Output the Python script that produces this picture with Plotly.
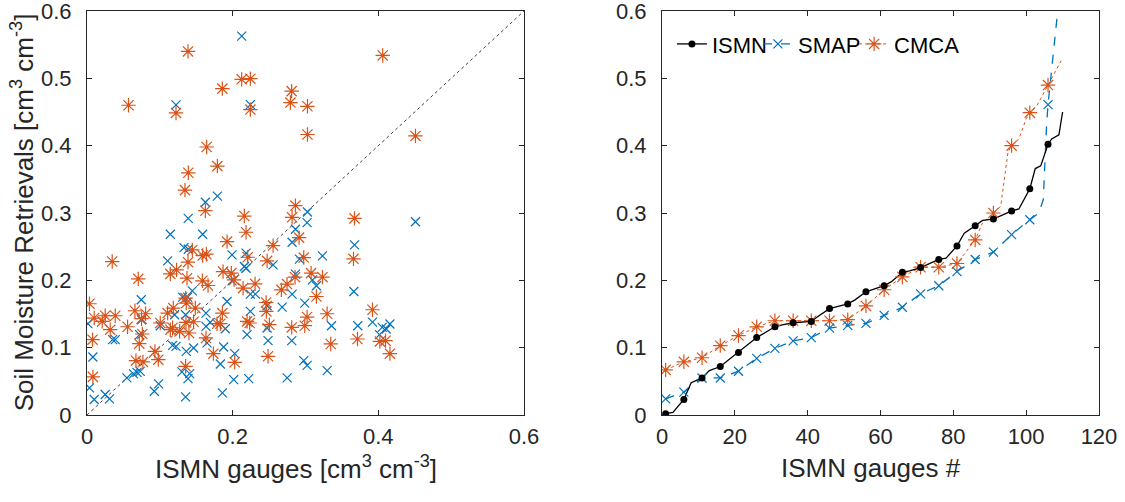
import plotly.graph_objects as go
from plotly.subplots import make_subplots

# ---------------- Left panel: scatter (ISMN gauge vs retrieval) ----------------
smap_x = [0.2124, 0.1222, 0.2243, 0.1625, 0.179, 0.3027, 0.139, 0.451,
          0.3022, 0.1144, 0.1588, 0.3673, 0.2862, 0.2816, 0.1332, 0.1391, 0.1991, 0.2184,
          0.1107, 0.2555, 0.2917, 0.3233, 0.2161, 0.2184, 0.2862, 0.3096, 0.315, 0.1991,
          0.3664, 0.1446, 0.0745, 0.1923, 0.2243, 0.2312, 0.2816, 0.2473, 0.2679, 0.299,
          0.1313, 0.1382, 0.2243, 0.1634, 0.0012, 0.0749, 0.1006, 0.1203, 0.1354, 0.1634,
          0.1693, 0.1899, 0.2198, 0.2473, 0.2486, 0.2811, 0.3357, 0.3718, 0.392, 0.4053,
          0.4108, 0.4159, 0.4016, 0.0722, 0.0351, 0.0388, 0.0081, 0.1175, 0.1222, 0.1363,
          0.1464, 0.1648, 0.1876, 0.2028, 0.1831, 0.2976, 0.3022, 0.3297, 0.1304, 0.1409,
          0.1387, 0.2014, 0.2220, 0.2748, 0.0548, 0.0639, 0.0686, 0.0731, 0.0983, 0.0924,
          0.0034, 0.0099, 0.025, 0.0309, 0.1354, 0.1859]
smap_y = [0.5627, 0.4605, 0.461, 0.316, 0.325, 0.3015, 0.292, 0.287,
          0.2857, 0.2684, 0.2684, 0.2526, 0.2758, 0.2566, 0.2486, 0.2462, 0.2378, 0.2403,
          0.2289, 0.223, 0.2314, 0.2363, 0.2205, 0.218, 0.2092, 0.2007, 0.1919, 0.1993,
          0.1834, 0.1844, 0.1711, 0.1686, 0.1795, 0.1795, 0.1795, 0.1622, 0.1603, 0.1662,
          0.1751, 0.1751, 0.1538, 0.1514, 0.1356, 0.1415, 0.1326, 0.1489, 0.1489, 0.1316,
          0.1375, 0.1281, 0.1193, 0.1292, 0.1104, 0.1104, 0.1326, 0.1326, 0.138, 0.1301,
          0.1277, 0.1351, 0.1193, 0.1193, 0.1119, 0.1119, 0.0862, 0.1034, 0.1019, 0.0945,
          0.0995, 0.107, 0.101, 0.0911, 0.0758, 0.0807, 0.0738, 0.0659, 0.064, 0.0615,
          0.0541, 0.0526, 0.0541, 0.0551, 0.0551, 0.061, 0.0634, 0.0649, 0.0462, 0.0353,
          0.0403, 0.023, 0.0304, 0.024, 0.027, 0.0329]

cmca_x = [0.1387, 0.406, 0.2124, 0.2243, 0.1858, 0.281, 0.057, 0.2793, 0.3027, 0.1222,
          0.2243, 0.3027, 0.451, 0.1643, 0.179, 0.1391, 0.1345, 0.1625, 0.2862, 0.2816,
          0.216, 0.3673,
          0.2184, 0.2912, 0.1923, 0.2555, 0.1446, 0.1588, 0.1639, 0.0346, 0.1387, 0.2206,
          0.2473, 0.2976, 0.3659, 0.123, 0.1144, 0.1373, 0.1868, 0.1982, 0.2019, 0.1584,
          0.1662, 0.0704, 0.2143, 0.2308, 0.2857, 0.2747, 0.2669, 0.3077, 0.3233, 0.315,
          0.0034, 0.1354, 0.1363, 0.1487, 0.1185, 0.1107, 0.0658, 0.0804, 0.0388, 0.025,
          0.0099, 0.0209, 0.0319, 0.0557, 0.0076, 0.0759, 0.0718, 0.0749, 0.1006, 0.1144,
          0.1175, 0.1272, 0.1359, 0.1464, 0.14, 0.1634, 0.1786, 0.1831, 0.1859, 0.2198,
          0.2234, 0.2459, 0.2463, 0.2504, 0.2811, 0.299, 0.3022, 0.3297, 0.392, 0.3347,
          0.3714, 0.4021, 0.4099, 0.4159, 0.0933, 0.0979, 0.0672, 0.0768, 0.1735, 0.2028,
          0.2486, 0.1354, 0.0081]
cmca_y = [0.540, 0.534, 0.4985, 0.4995, 0.4847, 0.481, 0.46, 0.464, 0.4585, 0.4486,
          0.4536, 0.4166, 0.4145, 0.398, 0.3696, 0.3597, 0.334, 0.3034, 0.311, 0.2936,
          0.2955, 0.292,
          0.2714, 0.2634, 0.2575, 0.2516, 0.2452, 0.2368, 0.2388, 0.2279, 0.227, 0.2343,
          0.2289, 0.2338, 0.2319, 0.2156, 0.2096, 0.2032, 0.213, 0.2107, 0.2007, 0.1993,
          0.1923, 0.2022, 0.1884, 0.1948, 0.2047, 0.1944, 0.1859, 0.2107, 0.2047, 0.176,
          0.1652, 0.1736, 0.1662, 0.1588, 0.1588, 0.1514, 0.1548, 0.1504, 0.1474, 0.1474,
          0.144, 0.139, 0.1267, 0.1311, 0.1119, 0.1203, 0.1059, 0.143, 0.1366, 0.1267,
          0.1296, 0.1242, 0.1375, 0.1385, 0.1218, 0.1144, 0.1356, 0.1356, 0.1514, 0.139,
          0.1366, 0.1671, 0.1538, 0.1341, 0.1301, 0.1326, 0.1455, 0.1504, 0.1563, 0.1055,
          0.1129, 0.1093, 0.1104, 0.0911, 0.0945, 0.0822, 0.0807, 0.0788, 0.0911, 0.0783,
          0.0872, 0.0723, 0.0566]

diag_x = [0, 0.6]
diag_y = [0, 0.6]

# ---------------- Right panel: sorted curves ----------------
gauge_idx = [1, 6, 11, 16, 21, 26, 31, 36, 41, 46, 51, 56, 61, 66, 71, 76, 81, 86,
             91, 96, 101, 106]
ismn_sorted = [0.002, 0.023, 0.055, 0.072, 0.093, 0.115, 0.131, 0.137, 0.139, 0.158,
               0.165, 0.183, 0.192, 0.212, 0.219, 0.231, 0.251, 0.281, 0.291, 0.303,
               0.336, 0.402]
smap_sorted = [0.024, 0.034, 0.055, 0.055, 0.065, 0.084, 0.099, 0.110, 0.115, 0.129,
               0.133, 0.136, 0.148, 0.160, 0.180, 0.192, 0.213, 0.231, 0.242, 0.268,
               0.290, 0.461]
cmca_sorted = [0.067, 0.079, 0.085, 0.103, 0.118, 0.131, 0.140, 0.140, 0.140, 0.140,
               0.1415, 0.162, 0.186, 0.205, 0.2195, 0.2195, 0.225, 0.260, 0.300, 0.400,
               0.449, 0.490]

# extra line knots between / after the marked gauges
ismn_extra_x = [3, 8, 13, 33, 43, 53, 63, 68, 78, 83, 88, 98, 102.5, 104, 107, 109, 110]
ismn_extra_y = [0.004, 0.048, 0.066, 0.134, 0.147, 0.171, 0.198, 0.214, 0.233, 0.270,
                0.289, 0.306, 0.366, 0.370, 0.410, 0.416, 0.450]
smap_extra_x = [103.5, 104.7, 105.2, 105.6, 110]
smap_extra_y = [0.300, 0.320, 0.390, 0.430, 0.670]
cmca_extra_x = [88, 93, 95, 98, 100, 103, 107, 110]
cmca_extra_y = [0.285, 0.310, 0.390, 0.410, 0.440, 0.460, 0.500, 0.530]

x_ticks_left = [0, 0.2, 0.4, 0.6]
x_ticks_right = [0, 20, 40, 60, 80, 100, 120]
y_ticks = [0, 0.1, 0.2, 0.3, 0.4, 0.5, 0.6]

BLUE = "#0072BD"
ORANGE = "#D95319"
AX = "#262626"
FONT = "Liberation Sans, Arial, sans-serif"
TICK_SIZE = 22
TITLE_SIZE = 26


def merge(x1, y1, x2, y2):
    pts = sorted(zip(list(x1) + list(x2), list(y1) + list(y2)))
    return [p[0] for p in pts], [p[1] for p in pts]


def fmt(v):
    return "0" if v == 0 else f"{v:g}"


ismn_marker = dict(symbol="circle", size=7, color="black")
smap_marker = dict(symbol="x-thin-open", size=9, color=BLUE, line=dict(color=BLUE, width=1.2))
cmca_marker = dict(symbol="asterisk-open", size=12, color=ORANGE, line=dict(color=ORANGE, width=1.2))

fig = make_subplots(rows=1, cols=2, horizontal_spacing=0.1364)

# left panel
fig.add_trace(go.Scatter(x=diag_x, y=diag_y, mode="lines",
                         line=dict(color="#404040", width=1, dash="dot"),
                         showlegend=False, hoverinfo="skip"), row=1, col=1)
fig.add_trace(go.Scatter(x=smap_x, y=smap_y, mode="markers", marker=smap_marker,
                         showlegend=False), row=1, col=1)
fig.add_trace(go.Scatter(x=cmca_x, y=cmca_y, mode="markers", marker=cmca_marker,
                         showlegend=False), row=1, col=1)

# right panel lines
ix, iy = merge(gauge_idx, ismn_sorted, ismn_extra_x, ismn_extra_y)
sx, sy = merge(gauge_idx, smap_sorted, smap_extra_x, smap_extra_y)
cx, cy = merge(gauge_idx, cmca_sorted, cmca_extra_x, cmca_extra_y)

fig.add_trace(go.Scatter(x=cx, y=cy, mode="lines",
                         line=dict(color=ORANGE, width=1, dash="dot"),
                         showlegend=False), row=1, col=2)
fig.add_trace(go.Scatter(x=sx, y=sy, mode="lines",
                         line=dict(color=BLUE, width=1.3, dash="dash"),
                         showlegend=False), row=1, col=2)
fig.add_trace(go.Scatter(x=ix, y=iy, mode="lines",
                         line=dict(color="black", width=1.3),
                         showlegend=False), row=1, col=2)

fig.add_trace(go.Scatter(x=gauge_idx, y=cmca_sorted, mode="markers", marker=cmca_marker,
                         showlegend=False), row=1, col=2)
fig.add_trace(go.Scatter(x=gauge_idx, y=smap_sorted, mode="markers", marker=smap_marker,
                         showlegend=False), row=1, col=2)
fig.add_trace(go.Scatter(x=gauge_idx, y=ismn_sorted, mode="markers", marker=ismn_marker,
                         showlegend=False), row=1, col=2)

# legend entries (one legend box per entry for MATLAB-like compact spacing)
fig.add_trace(go.Scatter(x=[None], y=[None], mode="lines+markers", name="ISMN",
                         line=dict(color="black", width=1.3), marker=ismn_marker,
                         legend="legend"), row=1, col=2)
fig.add_trace(go.Scatter(x=[None], y=[None], mode="lines+markers", name="SMAP",
                         line=dict(color=BLUE, width=1.3, dash="dash"), marker=smap_marker,
                         legend="legend2"), row=1, col=2)
fig.add_trace(go.Scatter(x=[None], y=[None], mode="lines+markers", name="CMCA",
                         line=dict(color=ORANGE, width=1, dash="dot"), marker=cmca_marker,
                         legend="legend3"), row=1, col=2)

axis_common = dict(showline=True, linecolor=AX, linewidth=1, mirror="ticks",
                   ticks="inside", ticklen=5, tickcolor=AX, tickwidth=1,
                   showgrid=False, zeroline=False, ticklabeloverflow="allow",
                   tickfont=dict(family=FONT, size=TICK_SIZE, color=AX))

fig.update_xaxes(axis_common)
fig.update_yaxes(axis_common)

fig.update_xaxes(range=[0, 0.6], tickvals=x_ticks_left, ticktext=[fmt(v) for v in x_ticks_left],
                 domain=[0, 0.4318], ticklabelstandoff=2, row=1, col=1)
fig.update_yaxes(range=[0, 0.6], tickvals=y_ticks, ticktext=[fmt(v) for v in y_ticks],
                 ticklabelstandoff=10, row=1, col=1)
fig.update_xaxes(range=[0, 120], tickvals=x_ticks_right, ticktext=[fmt(v) for v in x_ticks_right],
                 domain=[0.5682, 1], ticklabelstandoff=2, row=1, col=2)
fig.update_yaxes(range=[0, 0.6], tickvals=y_ticks, ticktext=[fmt(v) for v in y_ticks],
                 ticklabelstandoff=10, row=1, col=2)

title_font = dict(family=FONT, size=TITLE_SIZE, color=AX)
fig.add_annotation(text="ISMN gauges [cm<sup>3</sup> cm<sup>-3</sup>]", xref="paper", yref="paper",
                   x=0.2065, y=-0.131, xanchor="center", yanchor="middle",
                   showarrow=False, font=title_font)
fig.add_annotation(text="ISMN gauges #", xref="paper", yref="paper",
                   x=0.7747, y=-0.131, xanchor="center", yanchor="middle",
                   showarrow=False, font=title_font)
fig.add_annotation(text="Soil Moisture Retrievals [cm<sup>3</sup> cm<sup>-3</sup>]",
                   xref="paper", yref="paper", x=-0.0642, y=0.502, textangle=-90,
                   xanchor="center", yanchor="middle", showarrow=False, font=title_font)

legend_common = dict(orientation="h", y=0.97, xanchor="left", yanchor="top",
                     bgcolor="rgba(0,0,0,0)", font=dict(family=FONT, size=22, color="black"),
                     itemwidth=30, borderwidth=0)

fig.update_layout(
    width=1125, height=502,
    margin=dict(l=87, r=26, t=11, b=87, autoexpand=False),
    paper_bgcolor="white", plot_bgcolor="white",
    font=dict(family=FONT, size=TICK_SIZE, color=AX),
    legend=dict(legend_common, x=0.578),
    legend2=dict(legend_common, x=0.663),
    legend3=dict(legend_common, x=0.758),
)

fig.write_html("out.html", config={"displayModeBar": False},
               post_script="document.body.style.margin='0';document.body.style.padding='0';")
